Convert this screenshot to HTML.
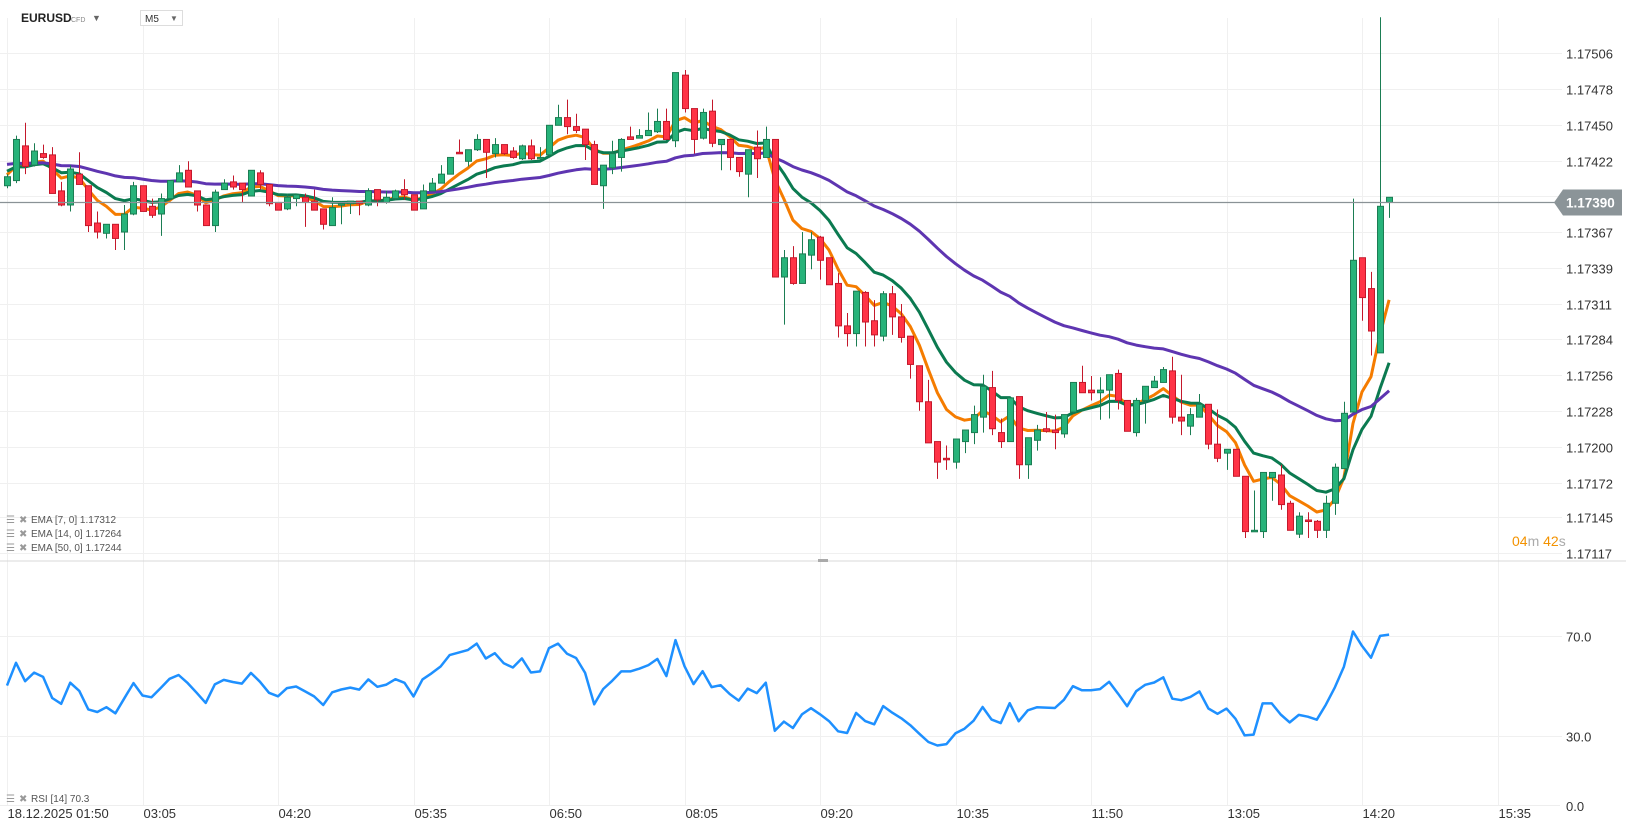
<!DOCTYPE html>
<html><head><meta charset="utf-8">
<style>
html,body{margin:0;padding:0;background:#fff;}
svg{display:block;font-family:"Liberation Sans",Arial,sans-serif;}
</style></head>
<body>
<svg id="chart" width="1626" height="831" viewBox="0 0 1626 831" xmlns="http://www.w3.org/2000/svg">
  <rect width="1626" height="831" fill="#fff"/>
  <g id="grid"></g>
  <g id="ema"></g>
  <g id="candles"></g>
  <g id="rsi"></g>
  <g id="axes"></g>

  <line x1="0" y1="561" x2="1626" y2="561" stroke="#d8d8d8" stroke-width="1"/>
  <rect x="818" y="559" width="10" height="3" fill="#aaa"/>
  <line x1="0" y1="805.5" x2="1560" y2="805.5" stroke="#eeeeee" stroke-width="1"/>

  <g>
    <text x="21" y="22" font-size="12" font-weight="bold" fill="#222">EURUSD</text>
    <text x="71" y="22" font-size="7" fill="#888">CFD</text>
    <text x="92" y="21" font-size="9" fill="#666">▼</text>
  </g>
  <g>
    <rect x="140.5" y="10.5" width="42" height="15" fill="#fff" stroke="#ddd"/>
    <text x="145" y="22" font-size="10" fill="#333">M5</text>
    <text x="170" y="21" font-size="8" fill="#666">▼</text>
  </g>

  <g font-size="10" fill="#555">
    <g><text x="6" y="523" fill="#999">☰</text><text x="19" y="523" fill="#999">✖</text><text x="31" y="523">EMA  [7,  0]  1.17312</text></g>
    <g><text x="6" y="537" fill="#999">☰</text><text x="19" y="537" fill="#999">✖</text><text x="31" y="537">EMA  [14,  0]  1.17264</text></g>
    <g><text x="6" y="551" fill="#999">☰</text><text x="19" y="551" fill="#999">✖</text><text x="31" y="551">EMA  [50,  0]  1.17244</text></g>
    <g><text x="6" y="802" fill="#999">☰</text><text x="19" y="802" fill="#999">✖</text><text x="31" y="802">RSI  [14]  70.3</text></g>
  </g>

  <text x="1512" y="546" font-size="14"><tspan fill="#f39200">04</tspan><tspan fill="#aaa">m </tspan><tspan fill="#f39200">42</tspan><tspan fill="#aaa">s</tspan></text>
</svg>
<script>
const opens=[1.17403,1.17407,1.17434,1.17419,1.17428,1.17427,1.17399,1.17388,1.17412,1.17403,1.17374,1.17366,1.17373,1.17367,1.17381,1.17403,1.17387,1.17381,1.17393,1.17406,1.17415,1.17399,1.17388,1.17372,1.17400,1.17406,1.17405,1.17395,1.17413,1.17404,1.17390,1.17385,1.17393,1.17394,1.17391,1.17385,1.17372,1.17388,1.17389,1.17391,1.17388,1.17400,1.17390,1.17393,1.17400,1.17396,1.17385,1.17399,1.17405,1.17412,1.17429,1.17422,1.17431,1.17439,1.17428,1.17435,1.17430,1.17424,1.17434,1.17424,1.17427,1.17450,1.17456,1.17449,1.17447,1.17435,1.17403,1.17417,1.17425,1.17441,1.17440,1.17442,1.17445,1.17453,1.17438,1.17489,1.17463,1.17440,1.17461,1.17435,1.17439,1.17425,1.17412,1.17433,1.17425,1.17439,1.17332,1.17347,1.17327,1.17349,1.17363,1.17347,1.17327,1.17294,1.17288,1.17320,1.17298,1.17286,1.17319,1.17301,1.17286,1.17263,1.17235,1.17204,1.17191,1.17188,1.17204,1.17211,1.17223,1.17246,1.17211,1.17204,1.17239,1.17186,1.17205,1.17214,1.17213,1.17210,1.17227,1.17250,1.17244,1.17242,1.17244,1.17257,1.17236,1.17211,1.17236,1.17246,1.17250,1.17259,1.17223,1.17216,1.17223,1.17233,1.17202,1.17195,1.17198,1.17177,1.17134,1.17134,1.17176,1.17178,1.17156,1.17132,1.17143,1.17142,1.17135,1.17156,1.17183,1.17227,1.17347,1.17323,1.17273,1.17390];
const highs=[1.17412,1.17442,1.17452,1.17436,1.17435,1.17433,1.17406,1.17419,1.17429,1.17403,1.17383,1.17373,1.17373,1.17388,1.17406,1.17403,1.17393,1.17397,1.17407,1.17419,1.17422,1.17399,1.17388,1.17400,1.17408,1.17411,1.17405,1.17415,1.17415,1.17404,1.17390,1.17397,1.17397,1.17397,1.17400,1.17385,1.17394,1.17391,1.17391,1.17391,1.17401,1.17400,1.17399,1.17400,1.17408,1.17396,1.17404,1.17409,1.17419,1.17425,1.17439,1.17431,1.17443,1.17439,1.17440,1.17435,1.17433,1.17435,1.17439,1.17433,1.17450,1.17466,1.17470,1.17459,1.17447,1.17438,1.17419,1.17438,1.17440,1.17449,1.17447,1.17460,1.17463,1.17463,1.17491,1.17493,1.17463,1.17463,1.17470,1.17439,1.17439,1.17425,1.17431,1.17446,1.17449,1.17439,1.17353,1.17356,1.17367,1.17367,1.17364,1.17347,1.17335,1.17304,1.17321,1.17321,1.17314,1.17321,1.17325,1.17311,1.17286,1.17263,1.17252,1.17204,1.17201,1.17206,1.17213,1.17232,1.17256,1.17259,1.17222,1.17238,1.17239,1.17207,1.17217,1.17227,1.17225,1.17225,1.17250,1.17263,1.17255,1.17254,1.17256,1.17260,1.17236,1.17238,1.17247,1.17255,1.17262,1.17270,1.17256,1.17230,1.17241,1.17233,1.17229,1.17198,1.17198,1.17177,1.17166,1.17180,1.17180,1.17186,1.17158,1.17149,1.17149,1.17143,1.17162,1.17187,1.17235,1.17393,1.17347,1.17336,1.17534,1.17394];
const lows=[1.17401,1.17405,1.17412,1.17418,1.17424,1.17397,1.17387,1.17383,1.17404,1.17367,1.17362,1.17362,1.17353,1.17353,1.17380,1.17383,1.17378,1.17364,1.17392,1.17406,1.17402,1.17383,1.17372,1.17367,1.17400,1.17400,1.17390,1.17395,1.17400,1.17387,1.17384,1.17384,1.17387,1.17371,1.17384,1.17369,1.17372,1.17373,1.17381,1.17380,1.17387,1.17387,1.17389,1.17392,1.17392,1.17384,1.17385,1.17399,1.17405,1.17412,1.17428,1.17418,1.17430,1.17409,1.17425,1.17427,1.17424,1.17423,1.17423,1.17424,1.17426,1.17450,1.17443,1.17444,1.17423,1.17404,1.17385,1.17412,1.17414,1.17439,1.17440,1.17442,1.17444,1.17439,1.17433,1.17460,1.17428,1.17439,1.17433,1.17415,1.17415,1.17410,1.17394,1.17409,1.17425,1.17332,1.17295,1.17326,1.17327,1.17338,1.17330,1.17326,1.17285,1.17278,1.17278,1.17278,1.17278,1.17282,1.17287,1.17281,1.17253,1.17228,1.17203,1.17175,1.17182,1.17183,1.17195,1.17202,1.17211,1.17209,1.17199,1.17204,1.17175,1.17175,1.17197,1.17211,1.17198,1.17207,1.17226,1.17242,1.17236,1.17221,1.17222,1.17229,1.17212,1.17208,1.17218,1.17246,1.17250,1.17218,1.17209,1.17209,1.17223,1.17198,1.17188,1.17182,1.17177,1.17129,1.17134,1.17129,1.17158,1.17151,1.17135,1.17129,1.17129,1.17129,1.17129,1.17147,1.17183,1.17227,1.17298,1.17271,1.17273,1.17378];
const closes=[1.17410,1.17439,1.17418,1.17430,1.17425,1.17397,1.17388,1.17416,1.17404,1.17372,1.17367,1.17373,1.17362,1.17381,1.17403,1.17383,1.17380,1.17393,1.17407,1.17413,1.17402,1.17388,1.17372,1.17398,1.17405,1.17402,1.17400,1.17415,1.17404,1.17389,1.17384,1.17394,1.17396,1.17390,1.17384,1.17373,1.17386,1.17389,1.17391,1.17389,1.17399,1.17392,1.17394,1.17399,1.17396,1.17384,1.17399,1.17405,1.17412,1.17425,1.17428,1.17431,1.17439,1.17429,1.17435,1.17428,1.17425,1.17434,1.17424,1.17425,1.17450,1.17456,1.17449,1.17446,1.17435,1.17404,1.17419,1.17428,1.17439,1.17439,1.17442,1.17446,1.17453,1.17439,1.17491,1.17463,1.17439,1.17460,1.17436,1.17439,1.17425,1.17414,1.17431,1.17424,1.17439,1.17332,1.17347,1.17327,1.17350,1.17361,1.17345,1.17326,1.17294,1.17288,1.17321,1.17297,1.17287,1.17319,1.17301,1.17285,1.17264,1.17235,1.17203,1.17188,1.17190,1.17206,1.17213,1.17225,1.17247,1.17214,1.17204,1.17238,1.17186,1.17207,1.17213,1.17212,1.17211,1.17225,1.17250,1.17242,1.17242,1.17244,1.17256,1.17236,1.17212,1.17236,1.17247,1.17251,1.17260,1.17223,1.17220,1.17225,1.17233,1.17202,1.17191,1.17198,1.17177,1.17134,1.17135,1.17180,1.17180,1.17155,1.17135,1.17146,1.17142,1.17135,1.17156,1.17184,1.17226,1.17345,1.17316,1.17290,1.17387,1.17394];
const emaPeriods=[7,14,50];
const emaSeeds=[1.17412,1.17415,1.17420];
const emaColors=["#f57c00","#0b7a50","#5e35b1"];
const rsiPeriod=14;
const rsiSeed=[0.00005,0.00005];
const priceTicks=[1.17506,1.17478,1.17450,1.17422,1.17395,1.17367,1.17339,1.17311,1.17284,1.17256,1.17228,1.17200,1.17172,1.17145,1.17117];
const rsiTicks=[70,30,0];
const timeLabels=["18.12.2025  01:50","03:05","04:20","05:35","06:50","08:05","09:20","10:35","11:50","13:05","14:20","15:35"];
const lastPrice=1.17390;

const NS="http://www.w3.org/2000/svg";
function mk(tag,attrs,parent){const e=document.createElementNS(NS,tag);for(const k in attrs)e.setAttribute(k,attrs[k]);parent.appendChild(e);return e;}
const step=135.5/15;
function xs(i){return 7+i*step;}
function py(p){return 53.3+(1.17506-p)*128571.4;}
function ry(v){return 811-v*2.507;}

const grid=document.getElementById('grid'),axes=document.getElementById('axes');
priceTicks.forEach((t,k)=>{
  const y=Math.round(py(t))+0.5;
  const g=mk('line',{x1:0,y1:y,x2:1562,y2:y,stroke:'#f0f0f0','stroke-width':1},grid);
  
  
  const tx=mk('text',{x:1566,y:y+5,'font-size':13,fill:'#333'},axes);
  tx.textContent=t.toFixed(5);
  
  
});
rsiTicks.forEach(v=>{
  const y=Math.round(ry(v))+0.5;
  if(v>0){const g=mk('line',{x1:0,y1:y,x2:1562,y2:y,stroke:'#f0f0f0','stroke-width':1},grid);
  
  }
  const tx=mk('text',{x:1566,y:Math.min(y+5,811),'font-size':13,fill:'#333'},axes);
  tx.textContent=v.toFixed(1);
  
  
});
timeLabels.forEach((l,k)=>{
  const x=Math.round(xs(k*15))+0.5;
  const g=mk('line',{x1:x,y1:18,x2:x,y2:805,stroke:'#f0f0f0','stroke-width':1},grid);
  
  
  const tx=mk('text',{x:x,y:818,'font-size':13,fill:'#333','xml:space':'preserve'},axes);
  tx.textContent=l;
  
  
});

const emaG=document.getElementById('ema');
emaPeriods.forEach((n,k)=>{
  const a=2/(n+1);let e=emaSeeds[k];const pts=[];
  closes.forEach((c,i)=>{e=e+a*(c-e);pts.push(xs(i).toFixed(1)+','+py(e).toFixed(1));});
  const pl=mk('polyline',{points:pts.join(' '),fill:'none',stroke:emaColors[k],'stroke-width':3,'stroke-linejoin':'round'},emaG);
  
  
});

const cg=document.getElementById('candles');
opens.forEach((o,i)=>{
  const c=closes[i],h=highs[i],l=lows[i];
  const up=c>=o;const x=Math.round(xs(i));
  const g=mk('g',{},cg);
  
  
  const col=up?'#1b7d53':'#c4182b';
  mk('line',{x1:x+0.5,y1:py(h),x2:x+0.5,y2:py(l),stroke:col,'stroke-width':1},g);
  const top=py(Math.max(o,c)),bot=py(Math.min(o,c));
  mk('rect',{x:x-2.5,y:top,width:6,height:Math.max(1.5,bot-top),fill:up?'#27b37a':'#ff3346',stroke:col,'stroke-width':1},g);
});

const ly=Math.round(py(lastPrice))+0.5;
const pl=mk('line',{x1:0,y1:ly,x2:1556,y2:ly,stroke:'#8a9296','stroke-width':1.2},axes);


const pb=mk('polygon',{points:`1554,${ly} 1563,${ly-13} 1622,${ly-13} 1622,${ly+13} 1563,${ly+13}`,fill:'#8b9498'},axes);


const pt=mk('text',{x:1566,y:ly+5,'font-size':13.5,'font-weight':'bold',fill:'#fff'},axes);
pt.textContent=lastPrice.toFixed(5);



const rg=document.getElementById('rsi');
let ag=rsiSeed[0],al=rsiSeed[1];const rpts=[];
closes.forEach((c,i)=>{
  if(i>0){const d=c-closes[i-1];ag=(ag*(rsiPeriod-1)+Math.max(d,0))/rsiPeriod;al=(al*(rsiPeriod-1)+Math.max(-d,0))/rsiPeriod;}
  const r=al===0?100:100-100/(1+ag/al);
  rpts.push(xs(i).toFixed(1)+','+ry(r).toFixed(1));
});
const rl=mk('polyline',{points:rpts.join(' '),fill:'none',stroke:'#1e90ff','stroke-width':2.5,'stroke-linejoin':'round'},rg);


</script>
</body></html>
